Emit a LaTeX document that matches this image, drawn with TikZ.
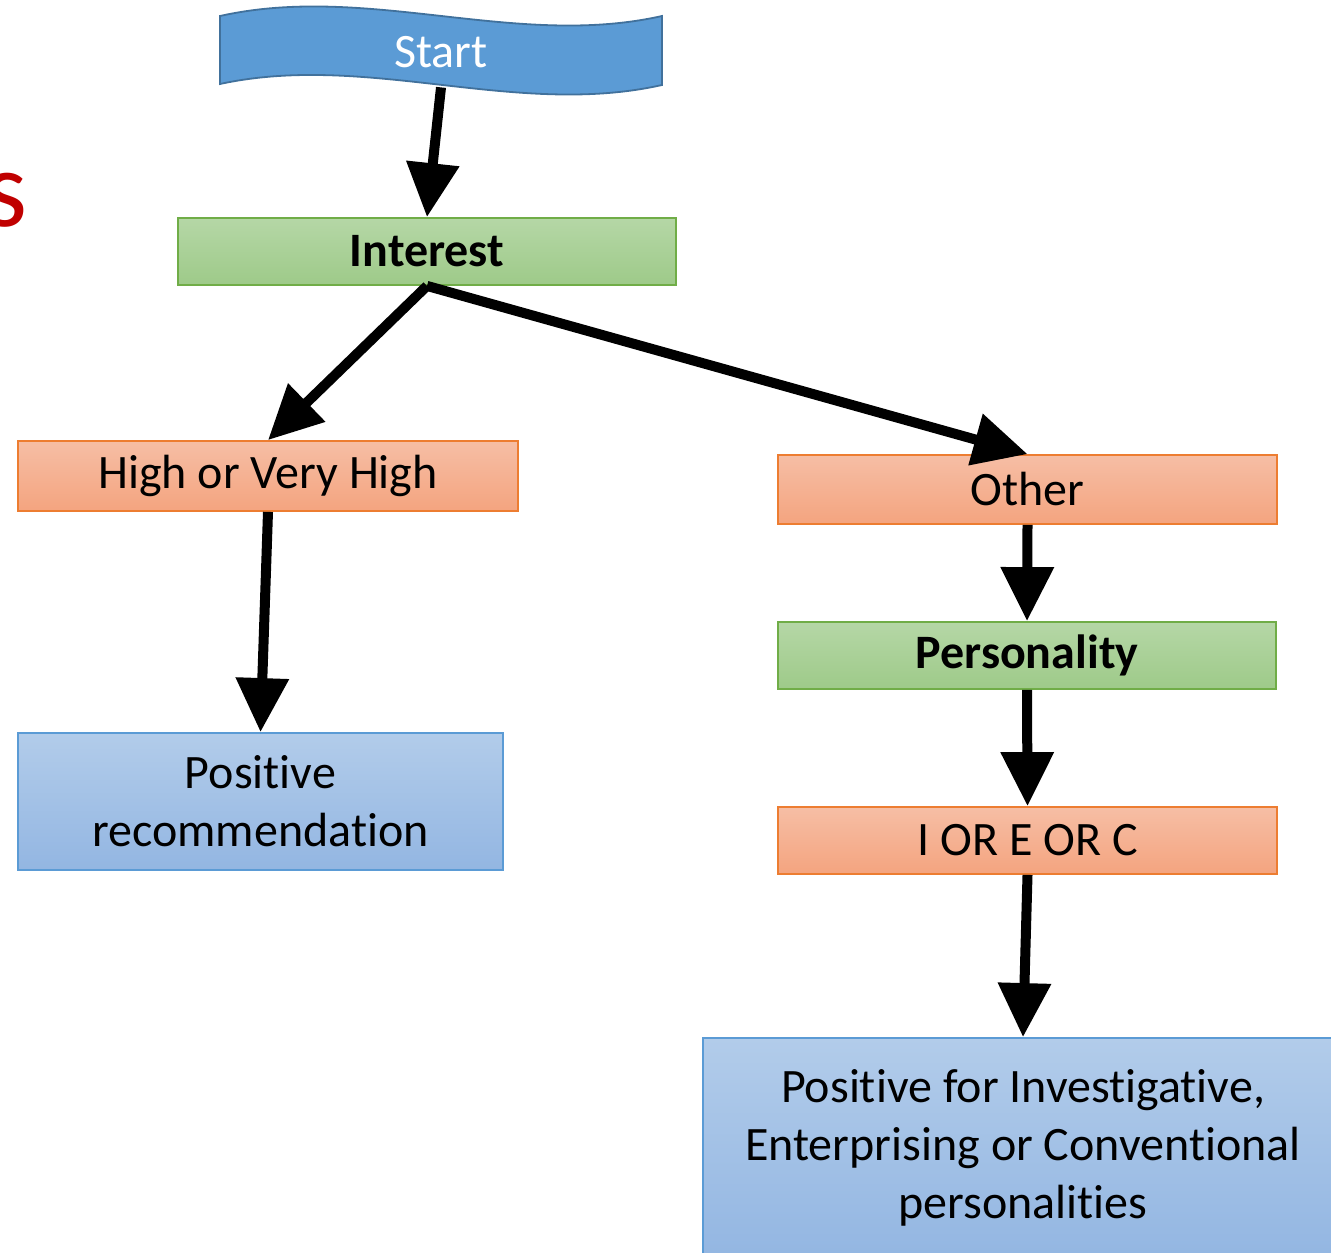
\documentclass[tikz,border=0pt]{standalone}
\usepackage{fontspec}
\setmainfont[RawFeature=-liga]{Carlito}
\usetikzlibrary{arrows.meta}

\definecolor{startblue}{HTML}{5B9BD5}
\definecolor{startedge}{HTML}{41719C}
\definecolor{greentop}{HTML}{B5D7A6}
\definecolor{greenbot}{HTML}{9ECA89}
\definecolor{greenedge}{HTML}{70AD47}
\definecolor{orangetop}{HTML}{F6BEA5}
\definecolor{orangebot}{HTML}{F4A47F}
\definecolor{orangeedge}{HTML}{ED7D31}
\definecolor{bluetop}{HTML}{B2CCEA}
\definecolor{bluebot}{HTML}{93B6E2}
\definecolor{titlered}{HTML}{C00000}

\tikzset{
  box/.style={rectangle, line width=0.9pt, align=center, inner sep=0pt,
    font=\fontsize{24}{29}\selectfont},
  greenbox/.style={box, draw=greenedge, top color=greentop, bottom color=greenbot,
    font=\fontsize{24}{29}\selectfont\bfseries},
  orangebox/.style={box, draw=orangeedge, top color=orangetop, bottom color=orangebot},
  bluebox/.style={box, draw=startblue, top color=bluetop, bottom color=bluebot},
  flow/.style={line width=5pt, -{Triangle[length=27pt, width=25.5pt]}}
}

\begin{document}
\begin{tikzpicture}[x=0.5pt, y=-0.5pt]
    \useasboundingbox (0,0) rectangle (1331,1252);
    \clip (0,0) rectangle (1331,1252);

    % Title tail
    \node[anchor=base east, text=titlered, inner sep=0pt,
      font=\fontsize{55}{60}\selectfont] (titletail) at (28,226) {s};

    % Start tape
    \draw[startedge, fill=startblue, line width=0.9pt]
      (220,16) .. controls (368,-17) and (515,49) .. (662,16)
      -- (662,85) .. controls (515,118) and (368,52) .. (220,84) -- cycle;
    \node[box, text=white, minimum width=221pt, minimum height=34.5pt] (start) at (441,52) {Start};

    % Left branch
    \node[greenbox, minimum width=249pt, minimum height=33.5pt] (interest) at (427,251.5) {Interest};
    \node[orangebox, minimum width=250pt, minimum height=35pt] (high) at (268,476) {High or Very High};
    \node[bluebox, minimum width=242.5pt, minimum height=68.5pt] (posrec) at (260.5,801.5) {Positive\\recommendation};

    % Right branch
    \node[orangebox, minimum width=249.5pt, minimum height=34.5pt] (other) at (1027.5,489.5) {Other};
    \node[greenbox, minimum width=249pt, minimum height=33.5pt] (personality) at (1027,655.5) {Personality};
    \node[orangebox, minimum width=249.5pt, minimum height=33.5pt] (iec) at (1027.5,840.5) {I OR E OR C};
    \node[bluebox, minimum width=320pt, minimum height=110pt] (posiec) at (1023,1148)
      {Positive for Investigative,\\Enterprising or Conventional\\personalities};

    % Arrows
    \draw[flow] (start.south) -- (interest.north);
    \draw[flow] (interest.south) -- (high.north);
    \draw[flow] (interest.south) -- (other.north);
    \draw[flow] (high.south) -- (posrec.north);
    \draw[flow] (other.south) -- (personality.north);
    \draw[flow] (personality.south) -- (iec.north);
    \draw[flow] (iec.south) -- (posiec.north);
\end{tikzpicture}
\end{document}
